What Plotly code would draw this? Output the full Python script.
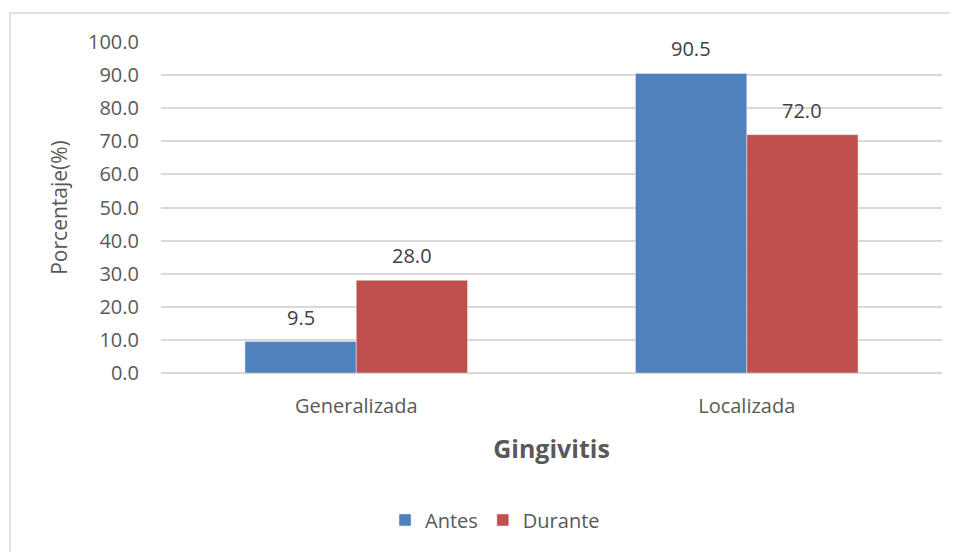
import plotly.graph_objects as go

categories = ['Generalizada', 'Localizada']
antes = [9.5, 90.5]
durante = [28.0, 72.0]

font_family = '"Open Sans", sans-serif'
txt = '#595959'

fig = go.Figure()
fig.add_trace(go.Bar(x=categories, y=antes, name='Antes', marker=dict(color='#4F81BD')))
fig.add_trace(go.Bar(x=categories, y=durante, name='Durante', marker=dict(color='#C0504D')))

# data labels sit a bit above the bars, like the Excel original
labels = []
for series, shift in ((antes, -55.5), (durante, 55.5)):
    for cat, v in zip(categories, series):
        labels.append(dict(x=cat, y=v, text=f'{v:.1f}', showarrow=False,
                           xshift=shift, yshift=9, yanchor='bottom',
                           font=dict(size=20, color='#404040')))

fig.update_layout(
    width=958, height=552,
    barmode='group', bargap=0.43, bargroupgap=0,
    paper_bgcolor='white', plot_bgcolor='white',
    font=dict(family=font_family, size=20, color=txt),
    margin=dict(l=153, r=24, t=34, b=187),
    legend=dict(orientation='h', x=0.4277, y=-0.444, xanchor='center', yanchor='middle',
                font=dict(size=20, color=txt), traceorder='normal'),
    annotations=labels,
    shapes=[dict(type='rect', xref='paper', yref='paper',
                 x0=-0.1933, x1=1.1, y0=-0.7, y1=1.0876,
                 line=dict(color='#D9D9D9', width=1.5), layer='below')],
)
fig.update_xaxes(
    title=dict(text='<b>Gingivitis</b>', font=dict(size=25, color=txt), standoff=22),
    showline=False, ticks='', tickfont=dict(size=20), ticklabelstandoff=19,
)
fig.update_yaxes(
    title=dict(text='Porcentaje(%)', font=dict(size=21, color=txt), standoff=14),
    range=[0, 100], dtick=10, tickformat='.1f',
    showgrid=True, gridcolor='#D9D9D9', gridwidth=1.5,
    zeroline=True, zerolinecolor='#D9D9D9', zerolinewidth=1.5,
    ticks='', tickfont=dict(size=20), ticklabelstandoff=21,
)

fig.write_html('out.html')
